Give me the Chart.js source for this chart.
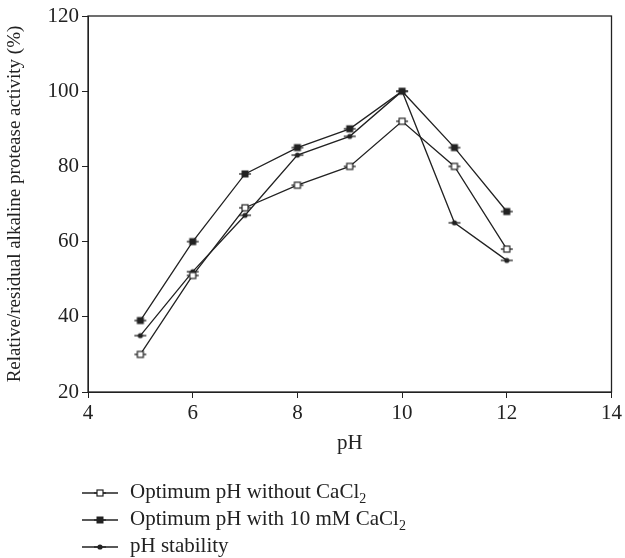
<!DOCTYPE html>
<html>
<head>
    <title>Protease activity vs pH</title>
    <meta charset="utf-8" />
    <script src="https://cdn.jsdelivr.net/npm/chart.js@4.4.1/dist/chart.umd.min.js"></script>
    <style>
        body { margin: 0; background: #fff; }
        #wrap { position: relative; width: 625px; height: 558px; }
        #legend {
            position: absolute; left: 82px; top: 478px;
            font-family: "Liberation Serif", "DejaVu Serif", serif;
            font-size: 21px; color: #222;
        }
        .row { height: 27px; line-height: 27px; white-space: nowrap; }
        .row canvas { vertical-align: middle; margin-right: 12px; }
    </style>
</head>
<body>
<div id="wrap">
    <canvas id="chart" width="625" height="558"></canvas>
    <div id="legend"></div>
</div>
<script>
    const phValues = [5, 6, 7, 8, 9, 10, 11, 12];
    const withoutCaCl2 = [30, 51, 69, 75, 80, 92, 80, 58];
    const withCaCl2 = [39, 60, 78, 85, 90, 100, 85, 68];
    const phStability = [35, 52, 67, 83, 88, 100, 65, 55];
    const xTicks = [4, 6, 8, 10, 12, 14];
    const yTicks = [20, 40, 60, 80, 100, 120];
    const seriesNames = ['Optimum pH without CaCl₂', 'Optimum pH with 10 mM CaCl₂', 'pH stability'];

    const ink = '#222';
    const serif = '"Liberation Serif", "DejaVu Serif", serif';

    // marker with a little horizontal error bar through it
    function marker(kind, w) {
        const c = document.createElement('canvas');
        c.width = w; c.height = 10;
        const g = c.getContext('2d');
        const cx = w / 2, cy = 5;
        g.strokeStyle = ink; g.lineWidth = 1.3;
        g.beginPath(); g.moveTo(cx - 6, cy); g.lineTo(cx + 6, cy); g.stroke();
        if (kind === 'open') {
            g.fillStyle = '#fff'; g.fillRect(cx - 3, cy - 3, 6, 6);
            g.lineWidth = 1.2;
            g.strokeRect(cx - 3, cy - 3, 6, 6);
        } else if (kind === 'filled') {
            g.fillStyle = ink; g.fillRect(cx - 3.5, cy - 3.5, 7, 7);
        } else {
            g.fillStyle = ink; g.beginPath(); g.arc(cx, cy, 2.6, 0, Math.PI * 2); g.fill();
        }
        return c;
    }
    const kinds = ['open', 'filled', 'dot'];

    const frame = {
        id: 'frame',
        afterDraw(chart) {
            const a = chart.chartArea, g = chart.ctx;
            g.save();
            g.strokeStyle = ink; g.lineWidth = 1.3;
            g.strokeRect(a.left, a.top, a.right - a.left, a.bottom - a.top);
            g.restore();
        }
    };

    const sets = [withoutCaCl2, withCaCl2, phStability].map((vals, i) => ({
        label: seriesNames[i],
        data: phValues.map((x, j) => ({ x: x, y: vals[j] })),
        borderColor: ink,
        borderWidth: 1.3,
        pointStyle: marker(kinds[i], 16),
        pointRadius: 5,
        tension: 0
    }));

    new Chart(document.getElementById('chart'), {
        type: 'line',
        data: { datasets: sets },
        plugins: [frame],
        options: {
            responsive: false,
            animation: false,
            layout: { padding: { left: 0, top: 16, right: 13, bottom: 98 } },
            plugins: { legend: { display: false }, tooltip: { enabled: false } },
            scales: {
                x: {
                    type: 'linear', min: 4, max: 14,
                    afterBuildTicks: s => { s.ticks = xTicks.map(v => ({ value: v })); },
                    afterFit: s => { s.height = 68; },
                    grid: { drawOnChartArea: false, tickLength: 6, color: ink },
                    border: { color: ink },
                    ticks: { color: ink, padding: 3, font: { family: serif, size: 21 } },
                    title: { display: true, text: 'pH', color: ink, padding: { top: 4 },
                             font: { family: serif, size: 21 } }
                },
                y: {
                    min: 20, max: 120,
                    afterBuildTicks: s => { s.ticks = yTicks.map(v => ({ value: v })); },
                    afterFit: s => { s.width = 88; },
                    grid: { drawOnChartArea: false, tickLength: 6, color: ink },
                    border: { color: ink },
                    ticks: { color: ink, padding: 3, font: { family: serif, size: 21 } },
                    title: { display: true, text: 'Relative/residual alkaline protease activity (%)',
                             color: ink, padding: { bottom: 2 }, font: { family: serif, size: 19 } }
                }
            }
        }
    });

    // legend below the plot
    const legend = document.getElementById('legend');
    seriesNames.forEach((name, i) => {
        const row = document.createElement('div');
        row.className = 'row';
        const c = document.createElement('canvas');
        c.width = 36; c.height = 10;
        const g = c.getContext('2d');
        g.strokeStyle = ink; g.lineWidth = 1.3;
        g.beginPath(); g.moveTo(0, 5); g.lineTo(36, 5); g.stroke();
        g.drawImage(marker(kinds[i], 16), 10, 0);
        row.appendChild(c);
        const html = name.replace('CaCl₂', 'CaCl<sub style="font-size:14px">2</sub>');
        const span = document.createElement('span');
        span.innerHTML = html;
        row.appendChild(span);
        legend.appendChild(row);
    });
</script>
</body>
</html>
